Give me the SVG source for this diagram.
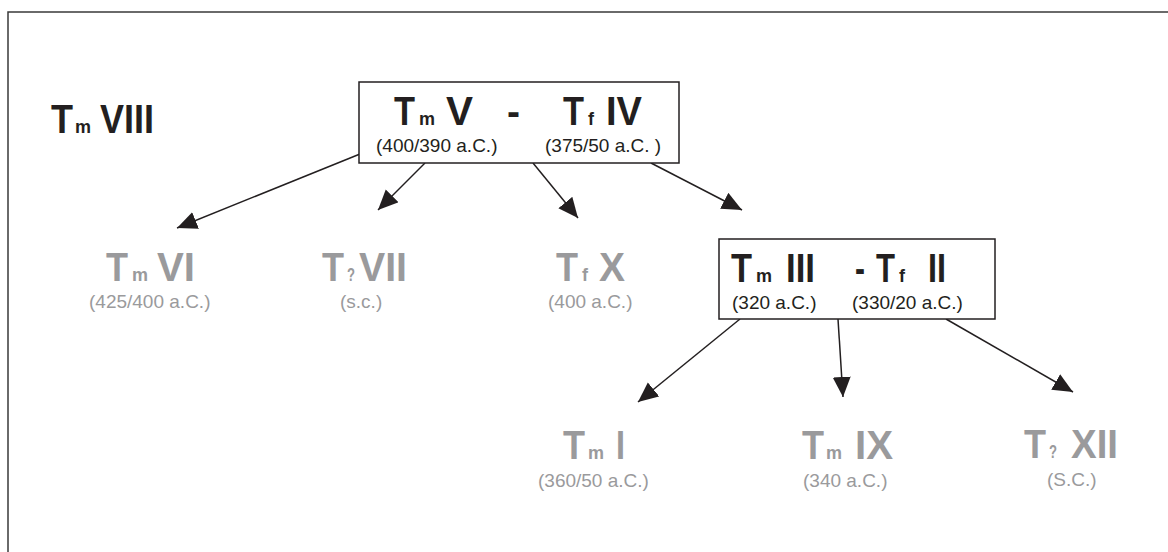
<svg xmlns="http://www.w3.org/2000/svg" width="1168" height="552" viewBox="0 0 1168 552">
  <style>
    text { font-family: "Liberation Sans", Arial, sans-serif; }
    .big { font-size: 40px; font-weight: bold; }
    .sub { font-size: 18px; font-weight: bold; }
    .date { font-size: 19px; }
    .dark { fill: #231f20; }
    .grey { fill: #9a9a9c; }
    .box { fill: #ffffff; stroke: #231f20; stroke-width: 1.5; }
    .edge { fill: none; stroke: #231f20; stroke-width: 1.5; marker-end: url(#head); }
  </style>
  <defs>
    <marker id="head" markerUnits="userSpaceOnUse" markerWidth="22" markerHeight="20" refX="20" refY="9" orient="auto">
      <path d="M0,0 L20,9 L0,18 Z" fill="#231f20"/>
    </marker>
  </defs>

  <rect width="1168" height="552" fill="#ffffff"/>
  <!-- page frame (left and top edges) -->
  <path d="M8,552 V12 H1168" fill="none" stroke="#3a3a3a" stroke-width="1.5"/>

  <g id="connectors">
    <line class="edge" x1="360" y1="154" x2="177" y2="228"/>
    <line class="edge" x1="425" y1="163" x2="378" y2="210"/>
    <line class="edge" x1="533" y1="163" x2="578" y2="218"/>
    <line class="edge" x1="651" y1="163" x2="742" y2="210"/>
    <line class="edge" x1="740" y1="319" x2="638" y2="402"/>
    <line class="edge" x1="838" y1="319" x2="843" y2="397"/>
    <line class="edge" x1="946" y1="319" x2="1073" y2="392"/>
  </g>

  <g id="tm-viii" class="dark">
    <text class="big" x="51" y="133" textLength="22" lengthAdjust="spacingAndGlyphs">T</text>
    <text class="sub" x="75" y="133">m</text>
    <text class="big" x="100" y="133" textLength="54" lengthAdjust="spacingAndGlyphs">VIII</text>
  </g>

  <g id="tm-v-tf-iv" class="dark">
    <rect class="box" x="359" y="82" width="320" height="81"/>
    <text class="big" x="394" y="125" textLength="21" lengthAdjust="spacingAndGlyphs">T</text>
    <text class="sub" x="419" y="125">m</text>
    <text class="big" x="446" y="125" textLength="27" lengthAdjust="spacingAndGlyphs">V</text>
    <text class="big" x="507" y="125" textLength="13" lengthAdjust="spacingAndGlyphs">-</text>
    <text class="big" x="563" y="125" textLength="21" lengthAdjust="spacingAndGlyphs">T</text>
    <text class="sub" x="588" y="125">f</text>
    <text class="big" x="606" y="125" textLength="36" lengthAdjust="spacingAndGlyphs">IV</text>
    <text class="date" x="376" y="152">(400/390 a.C.)</text>
    <text class="date" x="545" y="152">(375/50 a.C. )</text>
  </g>

  <g id="tm-vi" class="grey">
    <text class="big" x="106" y="281" textLength="22" lengthAdjust="spacingAndGlyphs">T</text>
    <text class="sub" x="132" y="281">m</text>
    <text class="big" x="157" y="281" textLength="38" lengthAdjust="spacingAndGlyphs">VI</text>
    <text class="date" x="89" y="308">(425/400 a.C.)</text>
  </g>

  <g id="tq-vii" class="grey">
    <text class="big" x="322" y="281" textLength="22" lengthAdjust="spacingAndGlyphs">T</text>
    <text class="sub" x="347" y="281" textLength="8" lengthAdjust="spacingAndGlyphs">?</text>
    <text class="big" x="359" y="281" textLength="48" lengthAdjust="spacingAndGlyphs">VII</text>
    <text class="date" x="340" y="308">(s.c.)</text>
  </g>

  <g id="tf-x" class="grey">
    <text class="big" x="556" y="281" textLength="22" lengthAdjust="spacingAndGlyphs">T</text>
    <text class="sub" x="582" y="281">f</text>
    <text class="big" x="599" y="281" textLength="26" lengthAdjust="spacingAndGlyphs">X</text>
    <text class="date" x="548" y="308">(400 a.C.)</text>
  </g>

  <g id="tm-iii-tf-ii" class="dark">
    <rect class="box" x="719" y="239" width="276" height="80"/>
    <text class="big" x="731" y="282" textLength="21" lengthAdjust="spacingAndGlyphs">T</text>
    <text class="sub" x="756" y="282">m</text>
    <text class="big" x="786" y="282" textLength="29" lengthAdjust="spacingAndGlyphs">III</text>
    <text class="big" x="855" y="282" textLength="10" lengthAdjust="spacingAndGlyphs">-</text>
    <text class="big" x="876" y="282" textLength="19" lengthAdjust="spacingAndGlyphs">T</text>
    <text class="sub" x="899" y="282">f</text>
    <text class="big" x="928" y="282" textLength="18" lengthAdjust="spacingAndGlyphs">II</text>
    <text class="date" x="732" y="309">(320 a.C.)</text>
    <text class="date" x="852" y="309">(330/20 a.C.)</text>
  </g>

  <g id="tm-i" class="grey">
    <text class="big" x="563" y="459" textLength="22" lengthAdjust="spacingAndGlyphs">T</text>
    <text class="sub" x="588" y="459">m</text>
    <text class="big" x="616" y="459" textLength="9" lengthAdjust="spacingAndGlyphs">I</text>
    <text class="date" x="538" y="487">(360/50 a.C.)</text>
  </g>

  <g id="tm-ix" class="grey">
    <text class="big" x="802" y="459" textLength="22" lengthAdjust="spacingAndGlyphs">T</text>
    <text class="sub" x="826" y="459">m</text>
    <text class="big" x="855" y="459" textLength="38" lengthAdjust="spacingAndGlyphs">IX</text>
    <text class="date" x="803" y="487">(340 a.C.)</text>
  </g>

  <g id="tq-xii" class="grey">
    <text class="big" x="1024" y="458" textLength="22" lengthAdjust="spacingAndGlyphs">T</text>
    <text class="sub" x="1049" y="458" textLength="8" lengthAdjust="spacingAndGlyphs">?</text>
    <text class="big" x="1071" y="458" textLength="47" lengthAdjust="spacingAndGlyphs">XII</text>
    <text class="date" x="1047" y="486">(S.C.)</text>
  </g>
</svg>
